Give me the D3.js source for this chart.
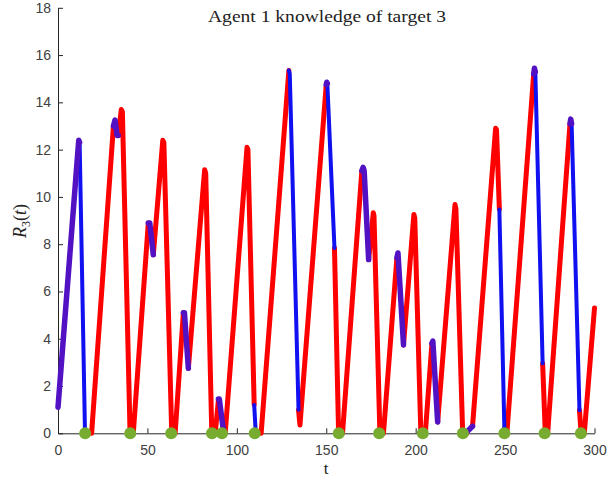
<!DOCTYPE html>
<html><head><meta charset="utf-8">
<script src="https://cdn.jsdelivr.net/npm/d3@7/dist/d3.min.js"></script>
<style>body{margin:0;background:#fff}</style>
</head><body>
<svg id="c" width="608" height="482"></svg>
<script>
const xTicks = [0, 50, 100, 150, 200, 250, 300];
const yTicks = [0, 2, 4, 6, 8, 10, 12, 14, 16, 18];

// red (unobserved) portions of the trace: [t, R3]
const redPaths = [
  [[15.1,0],[18.8,0],[31.0,13.0]],
  [[33.7,12.6],[35.4,13.7],[36.0,13.6],[40.3,0],[42.1,0],[50.5,8.9]],
  [[53.3,7.55],[58.6,12.4],[59.2,12.3],[63.6,0],[65.5,0],[70.1,5.1]],
  [[72.9,2.75],[82.0,11.15],[82.6,11.0],[86.0,0],[87.9,0],[89.7,1.4]],
  [[92.5,0.1],[93.5,0],[105.7,12.1],[106.2,12.0],[109.7,1.2]],
  [[110.6,0],[113.6,0],[129.1,15.35]],
  [[134.5,1.0],[135.3,0.35],[150.0,14.75]],
  [[154.6,7.84],[156.9,0],[159.1,0],[169.9,11.1]],
  [[173.7,7.35],[176.3,9.33],[176.7,9.2],[180.0,0],[182.0,0],[189.5,7.42]],
  [[193.2,3.74],[199.0,9.26],[199.5,9.1],[202.9,0],[205.4,0],[209.1,3.81]],
  [[212.3,0.48],[222.0,9.68],[222.5,9.5],[226.3,0],[228.5,0]],
  [[231.8,0.3],[244.7,12.9],[245.2,12.85],[246.8,9.47]],
  [[249.6,0.2],[250.0,0],[251.0,0],[266.0,15.2]],
  [[271.0,2.96],[272.5,0],[273.8,0],[286.3,13.1]],
  [[291.6,0.98],[292.5,0],[294.3,0],[300,5.3]]
];
// blue portions
const bluePaths = [
  [[12.1,12.3],[15.1,0]],
  [[109.7,1.2],[110.6,0]],
  [[129.1,15.35],[129.6,15.2],[134.5,1.0]],
  [[150.6,14.8],[154.6,7.84]],
  [[246.8,9.47],[249.6,0.2]],
  [[266.9,15.3],[271.0,2.96]],
  [[287.2,13.1],[291.6,0.98]]
];
// purple (overlapping) portions
const purplePaths = [
  [[0,1.1],[11.6,12.4],[12.1,12.3]],
  [[31.0,13.0],[31.9,13.25],[33.0,12.6],[33.7,12.6]],
  [[50.5,8.9],[51.3,8.9],[53.3,7.55]],
  [[70.1,5.1],[70.7,5.1],[72.9,2.75]],
  [[89.7,1.45],[90.2,1.45],[92.5,0.1]],
  [[150.0,14.75],[150.3,14.85],[150.6,14.8]],
  [[169.9,11.1],[170.6,11.25],[171.2,11.1],[173.7,7.35]],
  [[189.5,7.42],[190.1,7.63],[193.2,3.74]],
  [[209.1,3.81],[209.6,3.9],[212.3,0.48]],
  [[228.5,0.05],[231.8,0.3]],
  [[266.0,15.2],[266.4,15.44],[266.9,15.3]],
  [[286.3,13.1],[286.7,13.29],[287.2,13.1]]
];
// measurement instants (green markers)
const measureT = [15.2, 40.4, 63.3, 86.1, 91.7, 110.0, 157.0, 179.6, 204.0, 226.4, 249.6, 272.1, 292.4];

const svg = d3.select("#c");
const x = d3.scaleLinear().domain([0, 300]).range([58, 594.5]);
const y = d3.scaleLinear().domain([0, 18]).range([433.3, 7.8]);
const axisColor = "#262626";

const gx = svg.append("g").attr("transform", `translate(0,${y(0)})`)
  .call(d3.axisBottom(x).tickValues(xTicks).tickSizeInner(-5).tickSizeOuter(0).tickPadding(12));
const gy = svg.append("g").attr("transform", `translate(${x(0)},0)`)
  .call(d3.axisLeft(y).tickValues(yTicks).tickSizeInner(-5).tickSizeOuter(0).tickPadding(7));
[gx, gy].forEach(g => {
  g.select(".domain").attr("stroke", axisColor).attr("stroke-width", 1);
  g.selectAll(".tick line").attr("stroke", axisColor);
  g.selectAll(".tick text").attr("fill", "#404040").style("font-family", "Liberation Sans, Arial, sans-serif").style("font-size", "14px");
});

const line = d3.line().x(d => x(d[0])).y(d => y(d[1]));
function draw(paths, color, w) {
  svg.append("g").selectAll("path").data(paths).join("path")
    .attr("d", line).attr("fill", "none").attr("stroke", color)
    .attr("stroke-width", w).attr("stroke-linejoin", "round").attr("stroke-linecap", "round");
}
draw(redPaths, "#ff0000", 5);
draw(bluePaths, "#1010f0", 4);
draw(purplePaths, "#5212c4", 5.5);

svg.append("g").selectAll("circle").data(measureT).join("circle")
  .attr("cx", d => x(d)).attr("cy", y(0)).attr("r", 6).attr("fill", "#77ac30");

svg.append("text").attr("x", 327).attr("y", 22).attr("text-anchor", "middle")
  .style("font-family", "Liberation Serif, serif").style("font-size", "17px").attr("fill", "#222")
  .attr("textLength", 238).attr("lengthAdjust", "spacingAndGlyphs").text("Agent 1 knowledge of target 3");

svg.append("text").attr("x", 326).attr("y", 474).attr("text-anchor", "middle")
  .style("font-family", "Liberation Serif, serif").style("font-size", "17px").attr("fill", "#222").text("t");

const yl = svg.append("text").attr("transform", "translate(26,221) rotate(-90)").attr("text-anchor", "middle")
  .style("font-family", "Liberation Serif, serif").style("font-size", "18px").attr("fill", "#222");
yl.append("tspan").style("font-style", "italic").text("R");
yl.append("tspan").attr("dy", 4).style("font-size", "12px").text("3");
yl.append("tspan").attr("dy", -4).text("(");
yl.append("tspan").style("font-style", "italic").text("t");
yl.append("tspan").text(")");
</script>
</body></html>
